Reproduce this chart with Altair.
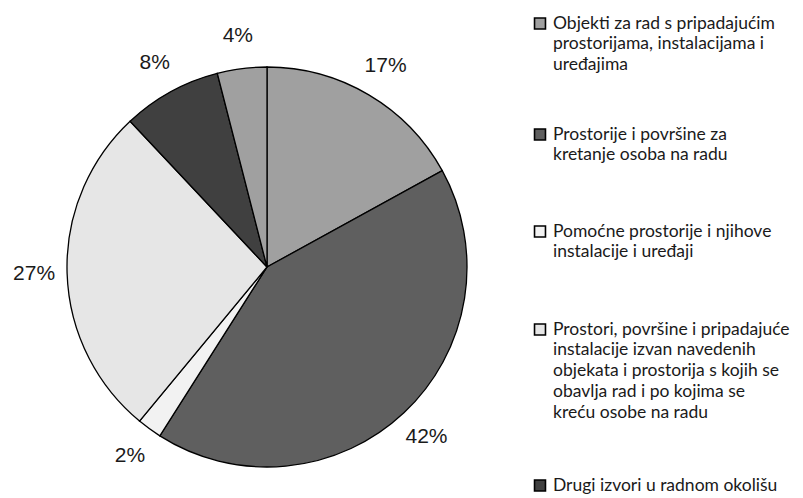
import altair as alt
import pandas as pd

# ---- data ----
categories = [
    "Objekti za rad s pripadajućim prostorijama, instalacijama i uređajima",
    "Prostorije i površine za kretanje osoba na radu",
    "Pomoćne prostorije i njihove instalacije i uređaji",
    "Prostori, površine i pripadajuće instalacije izvan navedenih objekata i prostorija s kojih se obavlja rad i po kojima se kreću osobe na radu",
    "Drugi izvori u radnom okolišu",
    "Ostalo",
]
values = [17, 42, 2, 27, 8, 4]
pct_labels = ["17%", "42%", "2%", "27%", "8%", "4%"]
colors = ["#a0a0a0", "#5f5f5f", "#f2f2f2", "#e6e6e6", "#404040", "#a0a0a0"]

legend_lines = [
    ["Objekti za rad s pripadajućim", "prostorijama, instalacijama i", "uređajima"],
    ["Prostorije i površine za", "kretanje osoba na radu"],
    ["Pomoćne prostorije i njihove", "instalacije i uređaji"],
    ["Prostori, površine i pripadajuće", "instalacije izvan navedenih",
     "objekata i prostorija s kojih se", "obavlja rad i po kojima se",
     "kreću osobe na radu"],
    ["Drugi izvori u radnom okolišu"],
]

# ---- layout (pixels, chart coordinates) ----
W, H = 787, 482
CX, CY, R = 259, 259, 200
LABEL_R = 233
entry_top = [15.5, 126.5, 223.5, 321.5, 477.5]
line_gap = 20.8
sq_x = 532
txt_x = 545

pie_df = pd.DataFrame({
    "cat": categories,
    "value": values,
    "label": pct_labels,
    "order": list(range(len(values))),
})

rows_txt = []
rows_sq = []
for i, lines in enumerate(legend_lines):
    rows_sq.append({"cat": categories[i], "ypix": entry_top[i]})
    for j, t in enumerate(lines):
        rows_txt.append({"text": t, "ypix": entry_top[i] + j * line_gap})
leg_txt = pd.DataFrame(rows_txt)
leg_sq = pd.DataFrame(rows_sq)

color_scale = alt.Scale(domain=categories, range=colors)
yscale = alt.Scale(domain=[0, H], range=[0, H])

base = alt.Chart(pie_df).encode(
    theta=alt.Theta("value:Q", stack=True),
    order=alt.Order("order:Q"),
)

arcs = base.mark_arc(outerRadius=R, stroke="#000000", strokeWidth=1.3).encode(
    color=alt.Color("cat:N", scale=color_scale, legend=None),
    x=alt.value(CX),
    y=alt.value(CY),
)

labels = base.mark_text(
    radius=LABEL_R, font="Liberation Sans", fontSize=21, color="#1a1a1a",
    align="center", baseline="middle",
).encode(
    text="label:N",
    x=alt.value(CX),
    y=alt.value(CY),
)

squares = alt.Chart(leg_sq).mark_square(
    size=120, stroke="#000000", strokeWidth=1.6, opacity=1
).encode(
    x=alt.value(sq_x),
    y=alt.Y("ypix:Q", scale=yscale, axis=None),
    color=alt.Color("cat:N", scale=color_scale, legend=None),
)

texts = alt.Chart(leg_txt).mark_text(
    align="left", baseline="middle", font="Lato", fontSize=17.5, color="#1a1a1a"
).encode(
    x=alt.value(txt_x),
    y=alt.Y("ypix:Q", scale=yscale, axis=None),
    text="text:N",
)

chart = alt.layer(arcs, labels, squares, texts).resolve_scale(
    y="shared"
).properties(
    width=W, height=H, padding=0
).configure_view(stroke=None)

chart.save("out.html", embed_options={"renderer": "svg", "actions": False})
